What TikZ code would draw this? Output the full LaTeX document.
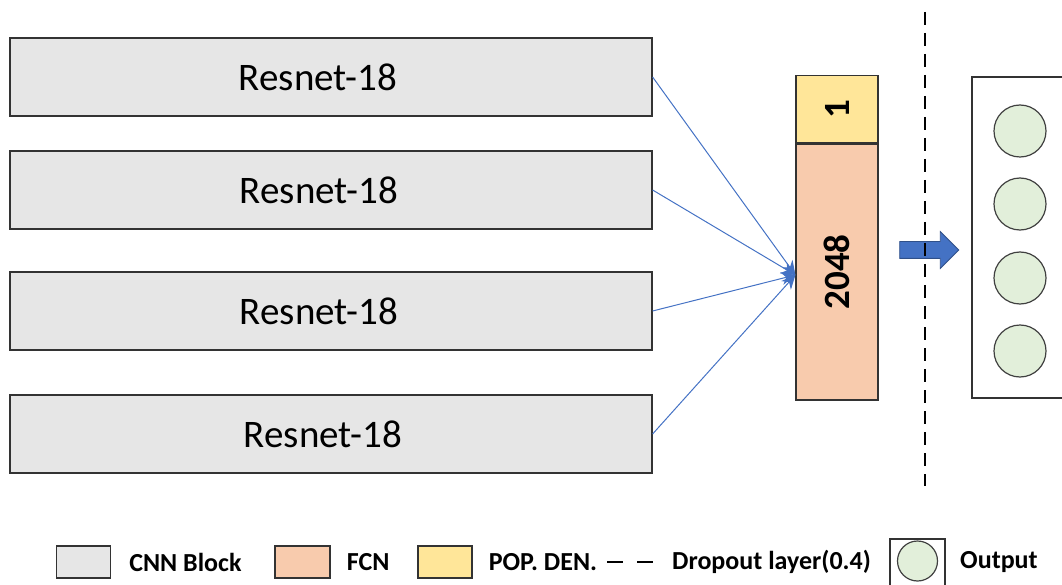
\documentclass[tikz,border=0pt]{standalone}
\usepackage{fontspec}
\setmainfont{Carlito}
\usepackage{xcolor}
\usepackage{tikz}
\usetikzlibrary{positioning,arrows.meta,shapes.arrows}

\definecolor{cnngray}{HTML}{E6E6E6}
\definecolor{fcnorange}{HTML}{F8CBAD}
\definecolor{popyellow}{HTML}{FFE699}
\definecolor{outgreen}{HTML}{E2EFDA}
\definecolor{linkblue}{HTML}{4472C4}

\tikzset{
  cnn/.style={draw=black!80, line width=1.2pt, fill=cnngray, minimum width=642pt, minimum height=78pt, inner sep=0pt, font=\fontsize{39}{41}\selectfont},
  dense/.style={draw=black!80, line width=1.2pt, fill=fcnorange, minimum width=82pt, minimum height=256pt, inner sep=0pt},
  popden/.style={draw=black!80, line width=1.2pt, fill=popyellow, minimum width=82pt, minimum height=67pt, inner sep=0pt},
  neuron/.style={circle, draw=black!75, line width=1.2pt, fill=outgreen, minimum size=52pt, inner sep=0pt},
  link/.style={linkblue, line width=1pt, -{Stealth[length=14pt,width=13pt]}},
  dropout/.style={line width=2.6pt, dash pattern=on 13pt off 8pt},
  legtext/.style={anchor=west, inner sep=0pt, font=\fontsize{26}{28}\selectfont\bfseries},
}

\begin{document}
\begin{tikzpicture}[x=1pt, y=-1pt]
    \useasboundingbox (0,0) rectangle (1062,585);

    % cnn blocks
    \node[cnn] (r_1) at (331,77)  {Resnet-18\hspace*{26pt}};
    \node[cnn] (r_2) at (331,190) {Resnet-18\hspace*{24pt}};
    \node[cnn] (r_3) at (331,311) {Resnet-18\hspace*{24pt}};
    \node[cnn] (r_4) at (331,434) {Resnet-18\hspace*{16pt}};

    % fully connected layer
    \node[dense] (fcn) at (837,272) {\rotatebox{90}{\fontsize{37}{39}\selectfont\bfseries 2048}};
    \node[popden, above=0pt of fcn] (pop) {\rotatebox{90}{\fontsize{37}{39}\selectfont\bfseries 1}};

    % the connection
    \foreach \i in {1,...,4}
        \draw[link] (r_\i.east) -- ([yshift=-3pt]fcn.west);

    % dropout
    \node[single arrow, draw=linkblue!70!black, fill=linkblue, line width=0.8pt, minimum height=59pt, minimum width=0pt,
          inner xsep=0pt, inner ysep=8pt, single arrow head extend=10pt] (step_arrow) at (925,250) {};
    \coordinate (drop_top) at (925,12);
    \coordinate (drop_bot) at (925,486);
    \draw[dropout] (drop_top) -- (drop_bot);

    % output layer
    \coordinate (out_nw) at (972,77);
    \coordinate (out_sw) at (972,398);
    \draw[black!80, line width=1.2pt] (1063,77) -- (out_nw) -- (out_sw) -- (1063,398);
    \foreach \y [count=\k] in {131,204,278,351}
        \node[neuron] (o_\k) at (1020,\y) {};

    % legend
    \node[draw=black!80, line width=1.2pt, fill=cnngray, minimum width=54pt, minimum height=32pt] (leg_cnn) at (83.5,562) {};
    \node[legtext, right=18pt of leg_cnn] (leg_cnn_t) {CNN Block};
    \node[draw=black!80, line width=1.2pt, fill=fcnorange, minimum width=55pt, minimum height=32pt] (leg_fcn) at (302.5,562) {};
    \node[legtext, right=16pt of leg_fcn] (leg_fcn_t) {FCN};
    \node[draw=black!80, line width=1.2pt, fill=popyellow, minimum width=54pt, minimum height=32pt] (leg_pop) at (445,562) {};
    \node[legtext, right=16pt of leg_pop] (leg_pop_t) {POP. DEN.};
    \coordinate (leg_d1) at (607,562);
    \coordinate (leg_d2) at (655,562);
    \draw[line width=2.6pt, dash pattern=on 16pt off 14pt] (leg_d1) -- (leg_d2);
    \node[legtext] (leg_drop_t) at (672,562) {Dropout layer(0.4)};
    \coordinate (leg_box_w) at (890,539);
    \draw[black!80, line width=1.2pt] (890,590) -- (leg_box_w) -- (945,539) -- (945,590);
    \node[neuron, minimum size=40pt] (leg_out) at (917.5,561) {};
    \node[legtext] (leg_out_t) at (960,562) {Output};

\end{tikzpicture}
\end{document}
